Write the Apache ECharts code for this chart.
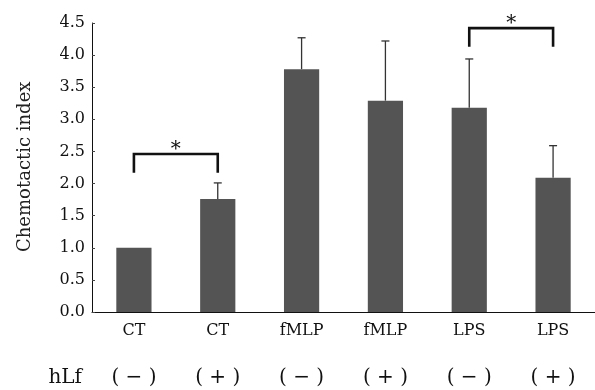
<!DOCTYPE html>
<html lang="en">

<head>
    <meta charset="UTF-8">
    <title>Chemotactic index</title>
    <style>
        html, body { margin: 0; padding: 0; background: #fff; }
    </style>
</head>

<body>
    <div id="main" style="width: 595px; height:390px"></div>
    <script src="https://cdn.jsdelivr.net/npm/echarts@6/dist/echarts.min.js"></script>
    <script type="text/javascript">
        // data
        var categories = ['CT', 'CT', 'fMLP', 'fMLP', 'LPS', 'LPS'];
        var hlfSigns = ['( − )', '( + )', '( − )', '( + )', '( − )', '( + )'];
        var means = [1.0, 1.76, 3.78, 3.29, 3.18, 2.09];
        var errTops = [null, 2.01, 4.27, 4.22, 3.94, 2.59];
        // significance brackets: [from index, to index, bar height, leg end]
        var brackets = [
            [0, 1, 2.46, 2.17],
            [4, 5, 4.42, 4.13]
        ];

        var serif = '"DejaVu Serif", "Liberation Serif", serif';
        var myChart = echarts.init(document.getElementById('main'));

        var errData = [];
        for (var i = 0; i < means.length; i++) {
            if (errTops[i] != null) errData.push([i, means[i], errTops[i]]);
        }

        option = {
            animation: false,
            grid: { left: 92, right: 0, top: 23, bottom: 78 },
            xAxis: [{
                type: 'category',
                data: categories,
                axisLine: { lineStyle: { color: '#111', width: 1 } },
                axisTick: { inside: true, length: 4, lineStyle: { color: '#444' } },
                axisLabel: { color: '#111', fontFamily: serif, fontSize: 16, margin: 11 }
            }, {
                type: 'category',
                data: hlfSigns,
                position: 'bottom',
                offset: 66,
                name: 'hLf',
                nameLocation: 'start',
                nameGap: 10,
                nameTextStyle: { color: '#111', fontFamily: serif, fontSize: 20, verticalAlign: 'middle' },
                axisLine: { show: false },
                axisTick: { show: false },
                axisLabel: { color: '#111', fontFamily: serif, fontSize: 20, margin: 0, verticalAlign: 'middle' }
            }],
            yAxis: {
                type: 'value',
                min: 0,
                max: 4.5,
                interval: 0.5,
                splitLine: { show: false },
                axisLine: { show: true, lineStyle: { color: '#111', width: 1 } },
                axisTick: { show: true, inside: true, length: 3, lineStyle: { color: '#444' } },
                axisLabel: {
                    color: '#111', fontFamily: serif, fontSize: 16, margin: 7,
                    formatter: function (v) { return v.toFixed(1); }
                }
            },
            graphic: [{
                type: 'text',
                x: 25,
                y: 252,
                rotation: Math.PI / 2,
                style: {
                    text: 'Chemotactic index',
                    font: '18px ' + serif,
                    fill: '#222',
                    align: 'left',
                    verticalAlign: 'middle'
                }
            }],
            series: [{
                type: 'bar',
                data: means,
                barWidth: '42%',
                itemStyle: { color: '#545454' }
            }, {
                type: 'custom',
                data: errData,
                renderItem: function (params, api) {
                    var base = api.coord([api.value(0), api.value(1)]);
                    var top = api.coord([api.value(0), api.value(2)]);
                    return {
                        type: 'group',
                        children: [{
                            type: 'line',
                            shape: { x1: base[0], y1: base[1], x2: top[0], y2: top[1] },
                            style: { stroke: '#333', lineWidth: 1.3 }
                        }, {
                            type: 'line',
                            shape: { x1: top[0] - 4, y1: top[1], x2: top[0] + 4, y2: top[1] },
                            style: { stroke: '#333', lineWidth: 1.3 }
                        }]
                    };
                }
            }, {
                type: 'custom',
                data: brackets,
                clip: false,
                renderItem: function (params, api) {
                    var a = api.coord([api.value(0), api.value(2)]);
                    var b = api.coord([api.value(1), api.value(2)]);
                    var legY = api.coord([api.value(0), api.value(3)])[1];
                    return {
                        type: 'group',
                        children: [{
                            type: 'polyline',
                            shape: { points: [[a[0], legY], a, b, [b[0], legY]] },
                            style: { stroke: '#111', lineWidth: 2.6, fill: null }
                        }, {
                            type: 'text',
                            x: (a[0] + b[0]) / 2,
                            y: a[1] - 4,
                            style: {
                                text: '*',
                                font: '20px ' + serif,
                                fill: '#111',
                                align: 'center',
                                verticalAlign: 'middle'
                            }
                        }]
                    };
                }
            }]
        };
        myChart.setOption(option);
    </script>

</body>

</html>
